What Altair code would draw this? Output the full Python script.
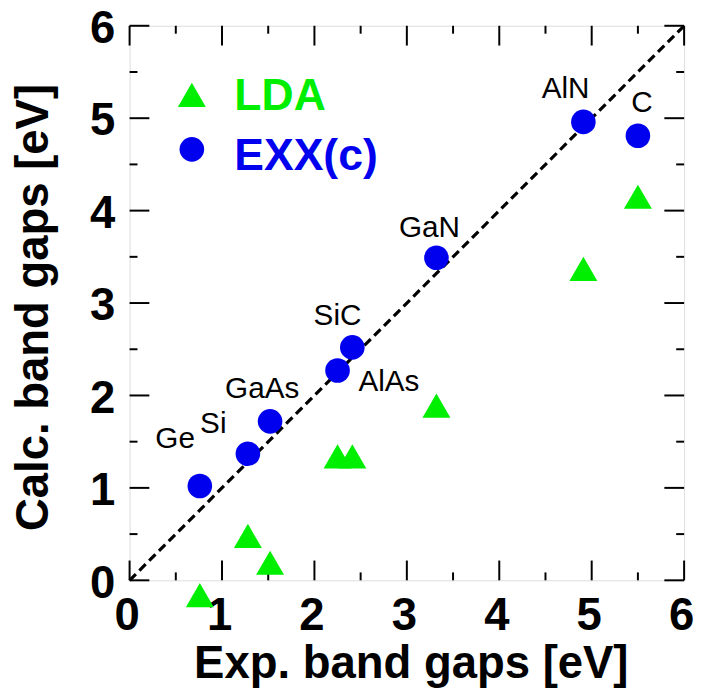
import altair as alt
import pandas as pd

# ---- data ----
materials = ["Ge", "Si", "GaAs", "AlAs", "SiC", "GaN", "AlN", "C"]
exp_gap = [0.76, 1.28, 1.52, 2.25, 2.41, 3.32, 4.91, 5.50]
exx_gap = [1.02, 1.37, 1.72, 2.27, 2.52, 3.49, 4.96, 4.81]
lda_gap = [-0.16, 0.48, 0.19, 1.34, 1.34, 1.89, 3.37, 4.15]
major_ticks = [0, 1, 2, 3, 4, 5, 6]
minor_ticks = [0.5, 1.5, 2.5, 3.5, 4.5, 5.5]
diag = [0, 6]
legend_labels = ["LDA", "EXX(c)"]

# ---- styling ----
W = 561
H = 561
GREEN = "#00ee00"
BLUE = "#0000ee"
FONT = "Liberation Sans"
MAJOR_LEN = 20
MINOR_LEN = 8
label_offsets = {
    "Ge": (-25, -47), "Si": (-35, -30), "GaAs": (-8, -33), "AlAs": (52, 12),
    "SiC": (-15, -32), "GaN": (-7, -30), "AlN": (-18, -33), "C": (4, -33),
}

df = pd.DataFrame({"name": materials, "x": exp_gap, "exx": exx_gap, "lda": lda_gap})
df_diag = pd.DataFrame({"x": diag, "y": diag})
df_major = pd.DataFrame({"x": major_ticks, "y": major_ticks})
df_minor = pd.DataFrame({"x": minor_ticks, "y": minor_ticks})

xscale = alt.Scale(domain=[0, 6], nice=False, zero=False)
yscale = alt.Scale(domain=[0, 6], nice=False, zero=False)

xaxis = alt.Axis(
    values=major_ticks, grid=False, domain=False, ticks=False, tickSize=0,
    labelFont=FONT, labelFontSize=46, labelFontWeight="bold", labelColor="black",
    labelBaseline="alphabetic", labelPadding=50, labelFlush=False, labelOffset=-3,
    title="Exp. band gaps [eV]", titleFont=FONT, titleFontSize=46,
    titleFontWeight="bold", titleColor="black", titleBaseline="alphabetic",
    titleAlign="center", titleX=W / 2 + 4, titleY=98,
)
yaxis = alt.Axis(
    values=major_ticks, grid=False, domain=False, ticks=False, tickSize=0,
    labelFont=FONT, labelFontSize=46, labelFontWeight="bold", labelColor="black",
    labelBaseline="middle", labelPadding=15, labelFlush=False, labelOffset=3,
    title="Calc. band gaps [eV]", titleFont=FONT, titleFontSize=46,
    titleFontWeight="bold", titleColor="black", titleBaseline="alphabetic",
    titleAlign="center", titleAngle=270, titleX=-83, titleY=H / 2 + 4,
)

X = alt.X("x:Q", scale=xscale, axis=xaxis)

diag_line = alt.Chart(df_diag).mark_line(
    color="black", strokeWidth=3.2, strokeDash=[9, 5]
).encode(x=X, y=alt.Y("y:Q", scale=yscale, axis=yaxis))

def tick_layers(d, length):
    xs = alt.X("x:Q", scale=xscale, axis=xaxis)
    ys = alt.Y("y:Q", scale=yscale, axis=yaxis)
    base = alt.Chart(d).mark_rule(color="black", strokeWidth=2)
    return [
        base.encode(x=xs, y=alt.value(H), y2=alt.value(H - length)),
        base.encode(x=xs, y=alt.value(0), y2=alt.value(length)),
        base.encode(y=ys, x=alt.value(0), x2=alt.value(length)),
        base.encode(y=ys, x=alt.value(W), x2=alt.value(W - length)),
    ]

ticks = tick_layers(df_major, MAJOR_LEN) + tick_layers(df_minor, MINOR_LEN)

lda_pts = alt.Chart(df).mark_point(
    shape="triangle-up", filled=True, size=800, color=GREEN, opacity=1
).encode(x=X, y=alt.Y("lda:Q", scale=yscale, axis=yaxis))

exx_pts = alt.Chart(df).mark_point(
    shape="circle", filled=True, size=620, color=BLUE, opacity=1
).encode(x=X, y=alt.Y("exx:Q", scale=yscale, axis=yaxis))

labels = []
for name, (dx, dy) in label_offsets.items():
    labels.append(
        alt.Chart(df).transform_filter(alt.datum.name == name).mark_text(
            font=FONT, fontSize=30, color="black", dx=dx, dy=dy,
            align="center", baseline="middle"
        ).encode(x=X, y=alt.Y("exx:Q", scale=yscale, axis=yaxis), text="name:N")
    )

# manual legend (in pixel space)
leg_df = pd.DataFrame({"label": legend_labels})
leg = [
    alt.Chart(leg_df).transform_filter(alt.datum.label == "LDA").mark_point(
        shape="triangle-up", filled=True, size=800, color=GREEN, opacity=1
    ).encode(x=alt.value(63), y=alt.value(70)),
    alt.Chart(leg_df).transform_filter(alt.datum.label == "EXX(c)").mark_point(
        shape="circle", filled=True, size=620, color=BLUE, opacity=1
    ).encode(x=alt.value(63), y=alt.value(125)),
    alt.Chart(leg_df).transform_filter(alt.datum.label == "LDA").mark_text(
        font=FONT, fontSize=45, fontWeight="bold", color=GREEN,
        align="left", baseline="alphabetic"
    ).encode(x=alt.value(106), y=alt.value(85), text="label:N"),
    alt.Chart(leg_df).transform_filter(alt.datum.label == "EXX(c)").mark_text(
        font=FONT, fontSize=45, fontWeight="bold", color=BLUE,
        align="left", baseline="alphabetic"
    ).encode(x=alt.value(106), y=alt.value(146), text="label:N"),
]

chart = alt.layer(
    diag_line, *ticks, lda_pts, exx_pts, *labels, *leg
).properties(
    width=W, height=H,
    padding={"left": 123, "top": 14, "right": 10, "bottom": 108},
    autosize=alt.AutoSizeParams(type="none"),
).configure_view(
    stroke="black", strokeWidth=4
).configure(
    background="white"
)

chart.save("out.html", embed_options={"renderer": "svg", "actions": False})
